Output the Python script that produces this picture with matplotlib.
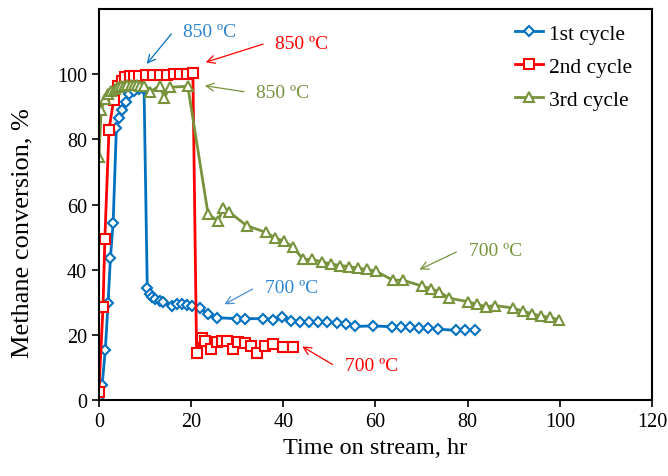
import matplotlib.pyplot as plt

plt.rcParams['font.family'] = ['Liberation Serif', 'DejaVu Serif']

# Datos
t1 = [0, 0.7, 1.4, 2.0, 2.5, 3.1, 3.8, 4.4, 5.0, 5.8, 6.5, 7.6, 8.7, 9.8, 10.5, 11.0, 11.5,
      12.2, 13.2, 14.0, 15.8, 17.0, 18.0, 19.1, 20.2, 21.9, 23.7, 25.7, 29.9, 31.7, 35.6,
      37.8, 39.8, 41.6, 43.6, 45.6, 47.5, 49.5, 51.6, 53.6, 55.6, 59.5, 63.6, 65.5, 67.5,
      69.4, 71.4, 73.5, 77.5, 79.4, 81.6]
c1 = [0, 4.5, 15.5, 29.8, 43.5, 54.5, 83.5, 86.5, 89, 91.5, 94, 94.8, 95.5, 95.5, 34.5,
      32.5, 31.7, 31, 30.5, 30, 29, 29.5, 29.5, 29.3, 29, 28.2, 26.5, 25.3, 25, 25, 25, 24.7,
      25.6, 24.4, 24.1, 24, 24, 24, 23.7, 23.3, 22.6, 22.8, 22.5, 22.4, 22.3, 22.2, 22.1,
      21.8, 21.4, 21.4, 21.5]

t2 = [0, 0.9, 1.3, 2.2, 3.2, 4.2, 5.0, 5.7, 6.7, 7.6, 8.8, 10.3, 11.7, 13.2, 14.8, 16.2,
      17.6, 19.1, 20.4, 21.2, 22.3, 23.1, 24.4, 25.6, 26.7, 27.8, 29.1, 30.2, 31.7, 32.9,
      34.3, 36.0, 37.8, 39.9, 42.1]
c2 = [2.5, 28.5, 49.5, 83, 92, 96.5, 98, 99, 99.3, 99.5, 99.6, 99.7, 99.8, 99.8, 99.9,
      100, 100.1, 100.2, 100.3, 14.5, 19, 18, 15.8, 17.8, 18.2, 18, 15.8, 17.8, 17.6, 16.6,
      14.5, 16.6, 17.2, 16.3, 16.3]

t3 = [0, 0.5, 1.3, 2.0, 2.7, 3.4, 4.1, 4.8, 5.5, 6.2, 6.9, 7.6, 8.3, 9.0, 9.8, 11.0, 13.2,
      14.2, 15.4, 19.3, 23.7, 25.9, 26.9, 28.2, 32.1, 36.2, 38.2, 40.1, 42.1, 44.3, 46.2,
      48.4, 50.3, 52.3, 54.3, 56.2, 58.2, 60.2, 63.8, 66.0, 70.1, 72.0, 73.8, 76.0, 80.1,
      82.0, 84.0, 86.0, 89.8, 92.0, 94.0, 95.9, 97.9, 99.8]
c3 = [74.5, 89, 92.5, 94, 95, 95.5, 96, 96.3, 96.5, 96.7, 96.8, 96.8, 96.6, 96.5, 96.5,
      94.5, 96.5, 92.8, 96, 96.3, 57, 55, 58.8, 57.8, 53.5, 51.5, 49.8, 48.8, 47, 43.2,
      43.2, 42.4, 41.8, 41.3, 41, 40.5, 40.1, 39.5, 36.8, 36.8, 35, 34.2, 33.3, 31.3, 30.2,
      29.4, 28.7, 29, 28.3, 27.3, 26.5, 25.8, 25.4, 24.6]

azul = "#0070C0"
rojo = "#FF0000"
verde = "#77933C"

fig = plt.figure(figsize=(6.68, 4.77), dpi=100)
ax = fig.add_axes([0.148, 0.159, 0.828, 0.82])

ax.plot(t1, c1, color=azul, linewidth=2, marker="D", markersize=5.5,
        markerfacecolor="white", markeredgewidth=1.5, label="1st cycle")
ax.plot(t2, c2, color=rojo, linewidth=2, marker="s", markersize=7,
        markerfacecolor="white", markeredgewidth=1.5, label="2nd cycle")
ax.plot(t3, c3, color=verde, linewidth=2, marker="^", markersize=7.5,
        markerfacecolor="white", markeredgewidth=1.5, label="3rd cycle")

# Anotaciones de temperatura
notas = [
    ("850 ºC", (10, 102.5), (16.1, 113), azul, "#2E86D0"),
    ("850 ºC", (22.6, 103.4), (36.2, 109.5), rojo, rojo),
    ("850 ºC", (22.4, 96.6), (32.1, 94.5), verde, verde),
    ("700 ºC", (26.7, 29), (33.9, 34.5), "#4A8FD0", "#2E86D0"),
    ("700 ºC", (43.6, 16.9), (51.2, 10.5), rojo, rojo),
    ("700 ºC", (69, 39.7), (78.1, 45.8), verde, verde),
]
for texto, punta, cola, c_flecha, c_texto in notas:
    ax.annotate("", xy=punta, xytext=cola,
                arrowprops=dict(arrowstyle="->", color=c_flecha, lw=0.9,
                                mutation_scale=14))
    ax.text(cola[0] + 2.1, cola[1], texto, color=c_texto, fontsize=14,
            va="center", ha="left")

ax.set_xlim(0, 120)
ax.set_ylim(0, 120)
ax.set_xticks(range(0, 121, 20))
ax.set_yticks(range(0, 101, 20))
ax.tick_params(direction="out", length=5, width=1.2, labelsize=14.5)
for s in ax.spines.values():
    s.set_linewidth(1.5)

ax.set_xlabel("Time on stream, hr", fontsize=17.5)
ax.set_ylabel("Methane conversion, %", fontsize=19)
ax.yaxis.set_label_coords(-0.118, 0.43)
ax.legend(loc="upper right", bbox_to_anchor=(1.0, 1.012), frameon=False,
          fontsize=15.5, handlelength=1.3, labelspacing=0.6, handletextpad=0.3)

plt.savefig("out.png", dpi=100)
